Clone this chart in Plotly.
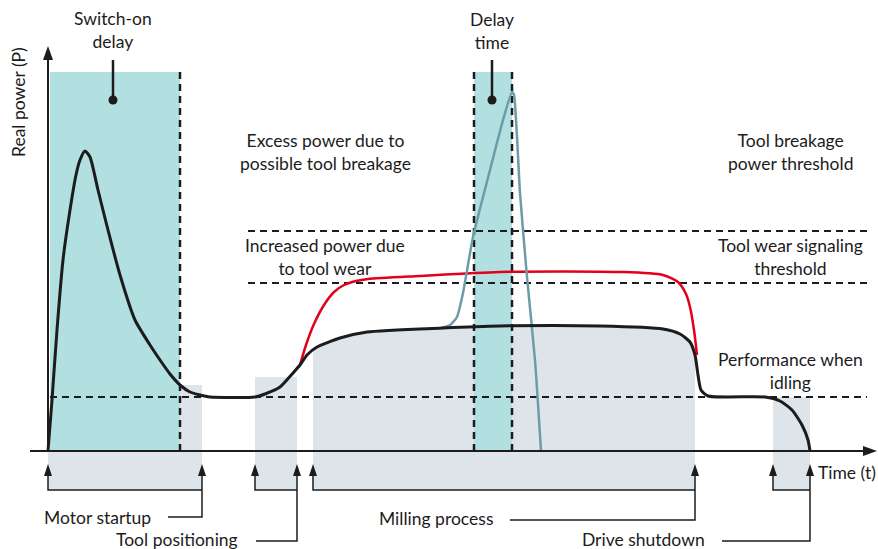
import plotly.graph_objects as go
import numpy as np

# ---- schematic data: time t and real power P (axis origin at t=0, P=0) ----
black_t = [0, 4, 9, 15, 22, 28, 32, 37, 42, 50, 60, 72, 87, 102, 112, 122, 132, 142, 152, 162,
           207, 217, 232, 245, 252, 259, 269, 292, 319, 395, 452, 552, 615, 632, 642, 647, 650,
           653, 660, 717, 732, 744, 754, 760, 762]
black_p = [0, 51, 121, 191, 241, 276, 291, 300, 294, 261, 221, 176, 131, 106, 91, 77, 66, 59, 56, 54,
           54, 57, 64, 78, 86, 96, 104, 113, 119, 123, 125, 125, 122, 117, 109, 96, 76,
           61, 55, 54, 50, 41, 26, 11, 0]

red_t = [252, 258, 266, 276, 286, 296, 308, 320, 372, 452, 572, 615, 630, 638, 642, 646, 649]
red_p = [86, 106, 127, 146, 159, 166, 170, 172, 175, 179, 179, 176, 169, 157, 144, 121, 96]

breakage_t = [393, 402, 409, 415, 425, 442, 455, 464, 466, 472, 479, 487, 493]
breakage_p = [123, 126, 134, 158, 214, 281, 331, 359, 356, 258, 174, 91, 0]

threshold_p = [54, 168, 220]          # idling, tool wear, tool breakage
threshold_start = [2, 200, 200]
threshold_end = 819

switch_on = [2, 132]
delay_time = [426, 464]
box_top = 379

phase_names = ["Motor startup", "Tool positioning", "Milling process", "Drive shutdown"]
phase_start = [0, 207, 265, 725]
phase_end = [154, 249, 647, 762]
phase_fill_top = [66, 74, None, 54]
phase_label_p = [-66, -90, -69, -90]
phase_text_p = [-66, -88, -67, -88]
phase_label_right = [105, 192, 447, 659]
phase_line_start = [120, 208, 462, 674]
bracket_p = -39

INK = "#1c1c1c"
TEAL = "#b2dfdf"
LIGHT = "#dde5ea"
FONT = "Lato"
FS = 17.5

fig = go.Figure()
shapes = []

# light shading above axis (short phases)
shapes.append(dict(type="rect", x0=switch_on[1], x1=phase_end[0], y0=0, y1=phase_fill_top[0],
                   fillcolor=LIGHT, line_width=0, layer="below"))
shapes.append(dict(type="rect", x0=phase_start[1], x1=phase_end[1], y0=0, y1=phase_fill_top[1],
                   fillcolor=LIGHT, line_width=0, layer="below"))
shapes.append(dict(type="rect", x0=phase_start[3], x1=phase_end[3], y0=0, y1=phase_fill_top[3],
                   fillcolor=LIGHT, line_width=0, layer="below"))
# milling fill under the black curve
bt = np.array(black_t, float); bp = np.array(black_p, float)
ms, me = phase_start[2], phase_end[2]
inside = (bt > ms) & (bt < me)
mt = [ms] + list(bt[inside]) + [me]
mp = [np.interp(ms, bt, bp)] + list(bp[inside]) + [np.interp(me, bt, bp)]
path = f"M {ms},0 " + " ".join(f"L {a},{b}" for a, b in zip(mt, mp)) + f" L {me},0 Z"
shapes.append(dict(type="path", path=path, fillcolor=LIGHT, line_width=0, layer="below"))
# light shading below axis
for s, e in zip(phase_start, phase_end):
    shapes.append(dict(type="rect", x0=s, x1=e, y0=bracket_p, y1=0, fillcolor=LIGHT,
                       line_width=0, layer="below"))
# teal delay boxes
for (a, b) in (switch_on, delay_time):
    shapes.append(dict(type="rect", x0=a, x1=b, y0=0, y1=box_top, fillcolor=TEAL,
                       line_width=0, layer="below"))
# dashed thresholds
for p, s in zip(threshold_p, threshold_start):
    shapes.append(dict(type="line", x0=s, x1=threshold_end, y0=p, y1=p, layer="below",
                       line=dict(color=INK, width=2, dash="7px,5px")))
# dashed verticals
for xv in (switch_on[1], delay_time[0], delay_time[1]):
    shapes.append(dict(type="line", x0=xv, x1=xv, y0=0, y1=box_top, layer="below",
                       line=dict(color=INK, width=2.5, dash="7px,5px")))

# axes
shapes.append(dict(type="line", x0=-18, x1=818, y0=0, y1=0, line=dict(color=INK, width=2)))
shapes.append(dict(type="line", x0=0, x1=0, y0=0, y1=395, line=dict(color=INK, width=2)))
shapes.append(dict(type="path", path="M 815,-5 L 829,0 L 815,5 Z", fillcolor=INK, line_width=0))
shapes.append(dict(type="path", path="M -5,391 L 0,405 L 5,391 Z", fillcolor=INK, line_width=0))

# phase brackets with arrows
for s, e, lp, ls in zip(phase_start, phase_end, phase_label_p, phase_line_start):
    shapes.append(dict(type="path",
                       path=f"M {s},-22 L {s},{bracket_p} L {e},{bracket_p}",
                       line=dict(color=INK, width=1.5)))
    shapes.append(dict(type="path",
                       path=f"M {e},-22 L {e},{lp} L {ls},{lp}",
                       line=dict(color=INK, width=1.5)))
    for xa in (s, e):
        shapes.append(dict(type="path", path=f"M {xa-4},-25 L {xa},-13 L {xa+4},-25 Z",
                           fillcolor=INK, line_width=0))

# pointer lines with dots
for xp in (65, 444):
    shapes.append(dict(type="line", x0=xp, x1=xp, y0=351, y1=391, line=dict(color=INK, width=2.5)))
    shapes.append(dict(type="circle", x0=xp - 4.5, x1=xp + 4.5, y0=346.5, y1=355.5,
                       fillcolor=INK, line_width=0))

# curves
fig.add_trace(go.Scatter(x=red_t, y=red_p, mode="lines", line=dict(color="#e2001a", width=2.5,
                         shape="spline", smoothing=0.7), hoverinfo="skip"))
fig.add_trace(go.Scatter(x=breakage_t, y=breakage_p, mode="lines", line=dict(color="#6b9ca8", width=2.5,
                         shape="spline", smoothing=0.5), hoverinfo="skip"))
fig.add_trace(go.Scatter(x=black_t, y=black_p, mode="lines", line=dict(color=INK, width=3,
                         shape="spline", smoothing=0.6), hoverinfo="skip"))

ann = []
def txt(t, x, y, xanchor="center", size=FS, angle=0):
    ann.append(dict(text=t, x=x, y=y, xref="x", yref="y", showarrow=False, xanchor=xanchor,
                    yanchor="middle", textangle=angle, font=dict(family=FONT, size=size, color=INK)))

txt("Switch-on<br>delay", 65, 421)
txt("Delay<br>time", 444, 420)
txt("Excess power due to<br>possible tool breakage", 277, 299)
txt("Increased power due<br>to tool wear", 277, 194)
txt("Tool breakage<br>power threshold", 742, 299)
txt("Tool wear signaling<br>threshold", 742, 194)
txt("Performance when<br>idling", 742, 80)
txt("Real power (P)", -30, 349, angle=-90)
txt("Time (t)", 768, -21, xanchor="left")
for name, r, tp in zip(phase_names, phase_label_right, phase_text_p):
    txt(name, r, tp, xanchor="right")

fig.update_layout(
    width=878, height=549, autosize=False,
    margin=dict(l=0, r=0, t=0, b=0),
    paper_bgcolor="white", plot_bgcolor="white",
    showlegend=False, hovermode=False,
    xaxis=dict(range=[-48, 830], visible=False, fixedrange=True),
    yaxis=dict(range=[-98, 451], visible=False, fixedrange=True),
    shapes=shapes, annotations=ann,
)
fig.write_html("out.html", config={"displayModeBar": False, "staticPlot": True},
               post_script="document.body.style.margin='0';document.body.style.overflow='hidden';")
